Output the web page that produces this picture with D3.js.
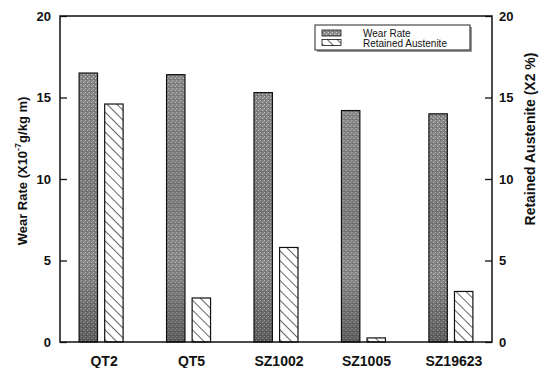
<!DOCTYPE html>
<html>
<head>
<meta charset="utf-8">
<script src="https://cdn.jsdelivr.net/npm/d3@7"></script>
<style>
  body { margin: 0; background: #fff; }
  text { font-family: "Liberation Sans", Arial, sans-serif; }
</style>
</head>
<body>
<div id="chart"></div>
<script>
var categories = ["QT2", "QT5", "SZ1002", "SZ1005", "SZ19623"];
var wearRate = [16.5, 16.4, 15.3, 14.2, 14.0];
var retainedAustenite = [14.6, 2.7, 5.8, 0.25, 3.1];
var yTicks = [0, 5, 10, 15, 20];
var seriesNames = ["Wear Rate", "Retained Austenite"];

var width = 546, height = 368;
var plotL = 60, plotR = 492, plotT = 16, plotB = 342;

var svg = d3.select("#chart").append("svg")
    .attr("width", width).attr("height", height);

var defs = svg.append("defs");

// speckled gray texture for wear rate
var speck = defs.append("pattern").attr("id", "speck")
    .attr("patternUnits", "userSpaceOnUse").attr("width", 4).attr("height", 4);
speck.append("rect").attr("width", 4).attr("height", 4).attr("fill", "#8a8a8a");
speck.append("rect").attr("x", 0).attr("y", 0).attr("width", 1).attr("height", 1).attr("fill", "#cfcfcf");
speck.append("rect").attr("x", 2).attr("y", 2).attr("width", 1).attr("height", 1).attr("fill", "#dadada");
speck.append("rect").attr("x", 1).attr("y", 3).attr("width", 1).attr("height", 1).attr("fill", "#666");
speck.append("rect").attr("x", 3).attr("y", 1).attr("width", 1).attr("height", 1).attr("fill", "#ababab");

var shade = defs.append("linearGradient").attr("id", "shade")
    .attr("x1", 0).attr("y1", 0).attr("x2", 0).attr("y2", 1);
shade.append("stop").attr("offset", "0%").attr("stop-color", "#000").attr("stop-opacity", 0.05);
shade.append("stop").attr("offset", "45%").attr("stop-color", "#000").attr("stop-opacity", 0.15);
shade.append("stop").attr("offset", "70%").attr("stop-color", "#000").attr("stop-opacity", 0.05);
shade.append("stop").attr("offset", "100%").attr("stop-color", "#000").attr("stop-opacity", 0.35);

// diagonal hatch for retained austenite ("\\\" direction)
var hatch = defs.append("pattern").attr("id", "hatch")
    .attr("patternUnits", "userSpaceOnUse").attr("width", 7).attr("height", 7)
    .attr("patternTransform", "rotate(-45)");
hatch.append("rect").attr("width", 7).attr("height", 7).attr("fill", "#fff");
hatch.append("line").attr("x1", 0).attr("y1", 0).attr("x2", 0).attr("y2", 7)
    .attr("stroke", "#111").attr("stroke-width", 1.3);

var x = d3.scalePoint().domain(categories).range([plotL, plotR]).padding(0.47);
var xs = d3.scaleBand().domain(seriesNames).range([-22, 22]).paddingInner(0.28);
var y = d3.scaleLinear().domain([0, 20]).range([plotB, plotT]);

var rows = categories.map(function(c, i) {
    return { cat: c, values: [wearRate[i], retainedAustenite[i]] };
});

var groups = svg.selectAll("g.grp").data(rows).enter().append("g")
    .attr("class", "grp")
    .attr("transform", function(d) { return "translate(" + x(d.cat) + ",0)"; });

groups.each(function(d) {
    var g = d3.select(this);
    seriesNames.forEach(function(s, j) {
        var v = d.values[j];
        var bx = xs(s), bw = xs.bandwidth();
        g.append("rect").attr("x", bx).attr("y", y(v))
            .attr("width", bw).attr("height", y(0) - y(v))
            .attr("fill", j === 0 ? "url(#speck)" : "url(#hatch)")
            .attr("stroke", "#111").attr("stroke-width", 1.2);
        if (j === 0) {
            g.append("rect").attr("x", bx).attr("y", y(v))
                .attr("width", bw).attr("height", y(0) - y(v))
                .attr("fill", "url(#shade)");
        }
    });
});

// frame
svg.append("rect").attr("x", plotL).attr("y", plotT)
    .attr("width", plotR - plotL).attr("height", plotB - plotT)
    .attr("fill", "none").attr("stroke", "#111").attr("stroke-width", 1.5);

var yl = svg.append("g").attr("transform", "translate(" + plotL + ",0)")
    .call(d3.axisLeft(y).tickValues(yTicks).tickSize(-7).tickPadding(9));
var yr = svg.append("g").attr("transform", "translate(" + plotR + ",0)")
    .call(d3.axisRight(y).tickValues(yTicks).tickSize(-7).tickPadding(7));
[yl, yr].forEach(function(a) {
    a.select(".domain").remove();
    a.selectAll(".tick line").attr("stroke", "#111").attr("stroke-width", 1.3);
    a.selectAll(".tick text").attr("font-size", 13).attr("font-weight", "bold")
        .attr("fill", "#111").style("font-family", "Liberation Sans, Arial, sans-serif");
});

// category labels
svg.selectAll("text.cat").data(categories).enter().append("text")
    .attr("class", "cat")
    .attr("x", function(d) { return x(d) + 3; })
    .attr("y", 366)
    .attr("text-anchor", "middle")
    .attr("font-size", 14).attr("font-weight", "bold").attr("fill", "#111")
    .text(function(d) { return d; });

// axis titles
var lt = svg.append("text")
    .attr("transform", "translate(27,171) rotate(-90)")
    .attr("text-anchor", "middle")
    .attr("font-size", 13).attr("font-weight", "bold").attr("fill", "#111");
lt.append("tspan").text("Wear Rate (X10");
lt.append("tspan").attr("dy", -6).attr("font-size", 9).text("-7");
lt.append("tspan").attr("dy", 6).text("g/kg m)");

svg.append("text")
    .attr("transform", "translate(535,139) rotate(-90)")
    .attr("text-anchor", "middle")
    .attr("font-size", 14).attr("font-weight", "bold").attr("fill", "#111")
    .text("Retained Austenite (X2 %)");

// legend
var lg = svg.append("g");
lg.append("rect").attr("x", 317).attr("y", 27).attr("width", 155).attr("height", 25)
    .attr("fill", "#999");
lg.append("rect").attr("x", 315).attr("y", 25).attr("width", 155).attr("height", 25)
    .attr("fill", "#fff").attr("stroke", "#222").attr("stroke-width", 1);
seriesNames.forEach(function(s, j) {
    lg.append("rect").attr("x", 322).attr("y", 30 + j * 9.5).attr("width", 19).attr("height", 6)
        .attr("fill", j === 0 ? "url(#speck)" : "url(#hatch)")
        .attr("stroke", "#111").attr("stroke-width", 0.8);
    lg.append("text").attr("x", 363).attr("y", 37 + j * 9.5)
        .attr("font-size", 10).attr("fill", "#111").text(s);
});
</script>
</body>
</html>
